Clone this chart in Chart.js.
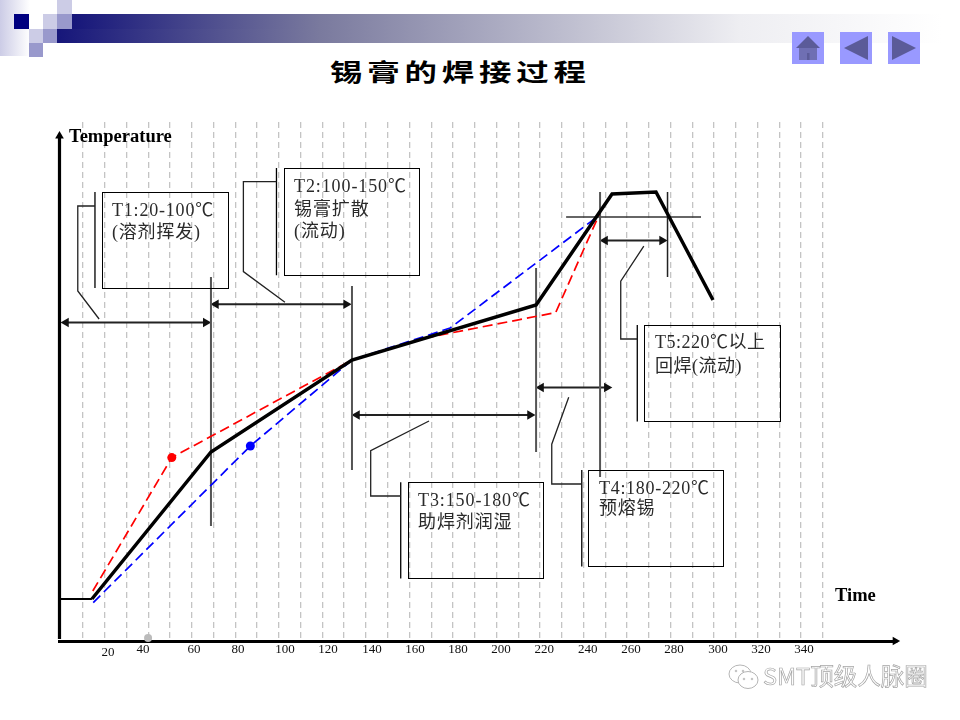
<!DOCTYPE html>
<html>
<head>
<meta charset="utf-8">
<title>锡膏的焊接过程</title>
<script src="https://cdn.jsdelivr.net/npm/chart.js@4"></script>
<style>
    html, body { margin: 0; padding: 0; background: #fff; }
    #stage { position: relative; width: 960px; height: 720px; overflow: hidden; }
    #stage canvas { position: absolute; left: 0; top: 0; }
    .deco { position: absolute; }
    .txt { position: absolute; white-space: pre; font-family: "Liberation Serif", "Noto Sans CJK SC", serif; color: #2a2a2a; }
    .box { position: absolute; border: 1px solid #000; box-sizing: border-box; }
    .axisName { position: absolute; font: bold 18.5px "Liberation Serif", serif; color: #000; }
    #title { position: absolute; left: 330px; top: 53px; white-space: nowrap; font: bold 24px "Noto Sans CJK SC", sans-serif; letter-spacing: 3.6px; color: #000; transform: scaleX(1.35); transform-origin: left top; }
    #mark { position: absolute; left: 763px; top: 658px; white-space: nowrap; font: 23.5px "Noto Sans CJK SC", sans-serif; color: #fff; -webkit-text-stroke: .7px #a5a5a5; }
</style>
</head>
<body>
<div id="stage">
    <!-- slide template strip -->
    <div class="deco" style="left:0;top:0;width:30px;height:56px;background:linear-gradient(90deg,#ccccE6,#fff)"></div>
    <div class="deco" style="left:72px;top:14px;width:888px;height:15px;background:linear-gradient(90deg,#16167a 0,#7a7a9e 248px,#eeeef2 668px,#fff 870px)"></div>
    <div class="deco" style="left:57px;top:29px;width:903px;height:14px;background:linear-gradient(90deg,#16167a 0,#7a7a9e 263px,#eeeef2 683px,#fff 885px)"></div>
    <div class="deco" style="left:14px;top:14px;width:15px;height:15px;background:#000080"></div>
    <div class="deco" style="left:29px;top:29px;width:14px;height:14px;background:#ccccE6"></div>
    <div class="deco" style="left:43px;top:14px;width:14px;height:15px;background:#ccccE6"></div>
    <div class="deco" style="left:57px;top:0;width:15px;height:14px;background:#ccccE6"></div>
    <div class="deco" style="left:57px;top:14px;width:15px;height:15px;background:#9999cc"></div>
    <div class="deco" style="left:43px;top:29px;width:14px;height:14px;background:#9999cc"></div>
    <div class="deco" style="left:29px;top:43px;width:14px;height:14px;background:#9999cc"></div>
    <svg class="deco" style="left:792px;top:32px" width="128" height="32">
        <rect x="0" y="0" width="32" height="32" fill="#9999ff"/>
        <polygon points="4,16 16,4 28,16" fill="#5b5b99"/>
        <rect x="7" y="16" width="18" height="12" fill="#6f6fb3"/>
        <rect x="15" y="21" width="2.5" height="7" fill="#5b5b99"/>
        <rect x="48" y="0" width="32" height="32" fill="#9999ff"/>
        <polygon points="52,16 76,4 76,28" fill="#5b5b99"/>
        <rect x="96" y="0" width="32" height="32" fill="#9999ff"/>
        <polygon points="100,4 124,16 100,28" fill="#5b5b99"/>
    </svg>
    <div id="title">锡膏的焊接过程</div>

    <canvas id="profileChart" width="960" height="720"></canvas>

    <div class="axisName" style="left:69px;top:126px">Temperature</div>
    <div class="axisName" style="left:835px;top:585px">Time</div>

    <div class="box" style="left:102px;top:192px;width:127px;height:97px"></div>
    <div class="txt" style="left:112px;top:199px;font-size:18px;line-height:22px;letter-spacing:.8px">T1:20-100℃
(溶剂挥发)</div>
    <div class="box" style="left:284px;top:168px;width:136px;height:108px"></div>
    <div class="txt" style="left:294px;top:175px;font-size:18px;line-height:22.5px;letter-spacing:.9px">T2:100-150℃
锡膏扩散
(流动)</div>
    <div class="box" style="left:408px;top:482px;width:136px;height:97px"></div>
    <div class="txt" style="left:418px;top:489px;font-size:18px;line-height:22px;letter-spacing:.9px">T3:150-180℃
助焊剂润湿</div>
    <div class="box" style="left:588px;top:470px;width:136px;height:97px"></div>
    <div class="txt" style="left:599px;top:478px;font-size:18px;line-height:20px;letter-spacing:.7px">T4:180-220℃
预熔锡</div>
    <div class="box" style="left:644px;top:325px;width:137px;height:97px"></div>
    <div class="txt" style="left:655px;top:330px;font-size:18px;line-height:24px;letter-spacing:.5px">T5:220℃以上
回焊(流动)</div>

    <svg class="deco" style="left:728px;top:664px" width="32" height="28" fill="#fff" stroke="#b5b5b5" stroke-width="1">
        <ellipse cx="12" cy="10" rx="11" ry="9"/>
        <ellipse cx="20" cy="16" rx="10" ry="8.5"/>
        <circle cx="8" cy="7" r=".8"/><circle cx="15" cy="7" r=".8"/>
        <circle cx="16" cy="15" r=".8"/><circle cx="24" cy="15" r=".8"/>
    </svg>
    <div id="mark">SMT顶级人脉圈</div>
</div>

<script>
// Soldering profile
const profileTime = [-0.6, 14.1, 68.8, 133.6, 218.2, 253.1, 273.3, 299.5];
const profileTemp = [21, 21, 94.5, 140.5, 168, 223.5, 224.5, 170.5];
const redTime = [14.5, 50.8, 133.6, 169.5, 227.2, 247.1];
const redTemp = [25, 91.7, 140.5, 152, 164.2, 213];
const blueTime = [14.7, 86.9, 133.6, 178.7, 246.2];
const blueTemp = [19.2, 97.5, 140.5, 156.5, 212];

// Axis ticks
const gridTimes = [10, 20, 30, 40, 50, 60, 70, 80, 90, 100, 110, 120, 130, 140, 150, 160, 170, 180,
    190, 200, 210, 220, 230, 240, 250, 260, 270, 280, 290, 300, 310, 320, 330, 340, 350];
const tickLabels = ['20', '40', '60', '80', '100', '120', '140', '160', '180', '200', '220', '240', '260', '280', '300', '320', '340'];
const tickSpots = [21.5, 37.6, 61, 81.2, 102.8, 122.6, 142.8, 162.6, 182.3, 202.1, 221.9, 241.9, 261.8, 281.6, 301.8, 321.6, 341.3];

// Phase boundaries: time, temp from, temp to
const boundaryTimes = [68.8, 133.6, 218.2, 247.6, 278.6];
const boundaryFrom = [182, 177.5, 186.5, 224.5, 224.5];
const boundaryTo = [57.5, 85.5, 94.5, 82, 182];

// Phase span arrows: from, to, temp
const spanFrom = [2.2, 71.1, 135.9, 220.5, 249.9];
const spanTo = [66.4, 130.9, 215.4, 250.7, 276.1];
const spanTemp = [159.2, 168.4, 113, 126.7, 200.2];

// Callout leaders and the bar beside each box
const leaderTimes = [
    [17.4, 7.6, 7.6, 15.5],
    [102.8, 83.7, 83.7, 98.9],
    [169, 142.2, 142.2, 156],
    [233.2, 225.4, 225.4, 239.2],
    [267.7, 257.1, 257.1, 264.7]
];
const leaderTemps = [
    [161, 175, 217.5, 217.5],
    [169.4, 184.7, 229.7, 229.7],
    [110, 95.2, 72.5, 72.5],
    [121.9, 98.4, 78.5, 78.5],
    [197.4, 179.9, 151, 151]
];
const barTimes = [15.5, 98.9, 156, 239.2, 264.7];
const barFrom = [224.5, 236.5, 79.4, 85.5, 158];
const barTo = [176.5, 182.9, 31.2, 37.2, 109.7];

// Liquidus line and axes
const liquidusTime = [232, 294];
const liquidusTemp = [212, 212];
const greyDotTime = [39.9];
const greyDotTemp = [1.5];
const yAxisTemps = [1, 252.5];
const xArrowTime = [383.2];

function pts(xs, ys) {
    return xs.map((x, i) => ({ x: x, y: ys[i] }));
}

function thinLine(data, color, width) {
    return {
        data: data,
        showLine: true,
        borderColor: color,
        borderWidth: width,
        pointRadius: 0,
        clip: false,
        order: 5
    };
}

const datasets = [];

// main curves
datasets.push({
    label: 'profile',
    data: pts(profileTime, profileTemp),
    showLine: true,
    borderColor: '#000',
    borderWidth: 3.5,
    pointRadius: 0,
    clip: false,
    order: 1,
    segment: { borderWidth: ctx => ctx.p0DataIndex === 0 ? 2 : 3.5 }
});
datasets.push({
    label: 'red',
    data: pts(redTime, redTemp),
    showLine: true,
    borderColor: '#ff0000',
    borderWidth: 1.7,
    borderDash: [10, 5],
    pointBackgroundColor: '#ff0000',
    pointBorderWidth: 0,
    pointRadius: ctx => ctx.dataIndex === 1 ? 4.5 : 0,
    clip: false,
    order: 3
});
datasets.push({
    label: 'blue',
    data: pts(blueTime, blueTemp),
    showLine: true,
    borderColor: '#0000ff',
    borderWidth: 1.7,
    borderDash: [10, 5],
    pointBackgroundColor: '#0000ff',
    pointBorderWidth: 0,
    pointRadius: ctx => ctx.dataIndex === 1 ? 4.5 : 0,
    clip: false,
    order: 2
});

// annotation lines
boundaryTimes.forEach((t, i) => {
    datasets.push(thinLine([{ x: t, y: boundaryFrom[i] }, { x: t, y: boundaryTo[i] }], i === 4 ? '#222' : '#555', i === 4 ? 1.5 : 2));
});
spanTemp.forEach((temp, i) => {
    datasets.push({
        data: [{ x: spanFrom[i], y: temp }, { x: spanTo[i], y: temp }],
        showLine: true,
        borderColor: '#222',
        borderWidth: 2,
        pointStyle: 'triangle',
        pointRadius: 5.5,
        pointBorderWidth: 0,
        pointBackgroundColor: '#111',
        pointRotation: ctx => ctx.dataIndex === 0 ? -90 : 90,
        clip: false,
        order: 5
    });
});
leaderTimes.forEach((xs, i) => {
    datasets.push(thinLine(pts(xs, leaderTemps[i]), '#222', 1.3));
    datasets.push(thinLine([{ x: barTimes[i], y: barFrom[i] }, { x: barTimes[i], y: barTo[i] }], '#000', 1.3));
});
datasets.push(thinLine(pts(liquidusTime, liquidusTemp), '#333', 1.5));

// axis arrows and the stray grey dot
datasets.push({
    data: [{ x: -0.8, y: yAxisTemps[0] }, { x: -0.8, y: yAxisTemps[1] }],
    showLine: true,
    borderColor: '#000',
    borderWidth: 3.2,
    pointStyle: 'triangle',
    pointBackgroundColor: '#000',
    pointBorderWidth: 0,
    pointRadius: ctx => ctx.dataIndex === 1 ? 5 : 0,
    clip: false,
    order: 4
});
datasets.push({
    data: [{ x: xArrowTime[0], y: 0 }],
    pointStyle: 'triangle',
    pointRotation: 90,
    pointBackgroundColor: '#000',
    pointBorderWidth: 0,
    pointRadius: 5,
    clip: false,
    order: 4
});
datasets.push({
    data: pts(greyDotTime, greyDotTemp),
    pointBackgroundColor: '#bbbbbb',
    pointBorderWidth: 0,
    pointRadius: 4,
    clip: false,
    order: 6
});

new Chart(document.getElementById('profileChart').getContext('2d'), {
    type: 'scatter',
    data: { datasets: datasets },
    options: {
        responsive: false,
        animation: false,
        layout: { padding: { left: 59.06, right: 63.1, top: 122, bottom: 55 } },
        plugins: { legend: { display: false }, tooltip: { enabled: false } },
        scales: {
            x: {
                type: 'linear',
                min: -1,
                max: 384,
                afterBuildTicks: axis => { axis.ticks = gridTimes.map(v => ({ value: v })); },
                afterFit: axis => { axis.height = 0; },
                ticks: { display: false },
                grid: { color: '#c4c4c4', lineWidth: 1.3, drawTicks: false },
                border: { color: '#000', width: 3, dash: [6, 4] }
            },
            tickAxis: {
                type: 'linear',
                position: 'bottom',
                axis: 'x',
                min: -1,
                max: 384,
                afterBuildTicks: axis => { axis.ticks = tickSpots.map(v => ({ value: v })); },
                afterFit: axis => { axis.height = 24; },
                grid: { display: false, drawTicks: false },
                border: { display: false },
                ticks: {
                    autoSkip: false,
                    maxRotation: 0,
                    padding: 1,
                    color: '#111',
                    // the 20 sits a little lower than the rest
                    font: ctx => ({ family: 'Liberation Serif', size: 13, lineHeight: ctx.index === 0 ? 1.7 : 1.2 }),
                    callback: (value, index) => tickLabels[index]
                }
            },
            y: {
                type: 'linear',
                min: 0,
                max: 259.5,
                display: false
            }
        }
    }
});
</script>
</body>
</html>
